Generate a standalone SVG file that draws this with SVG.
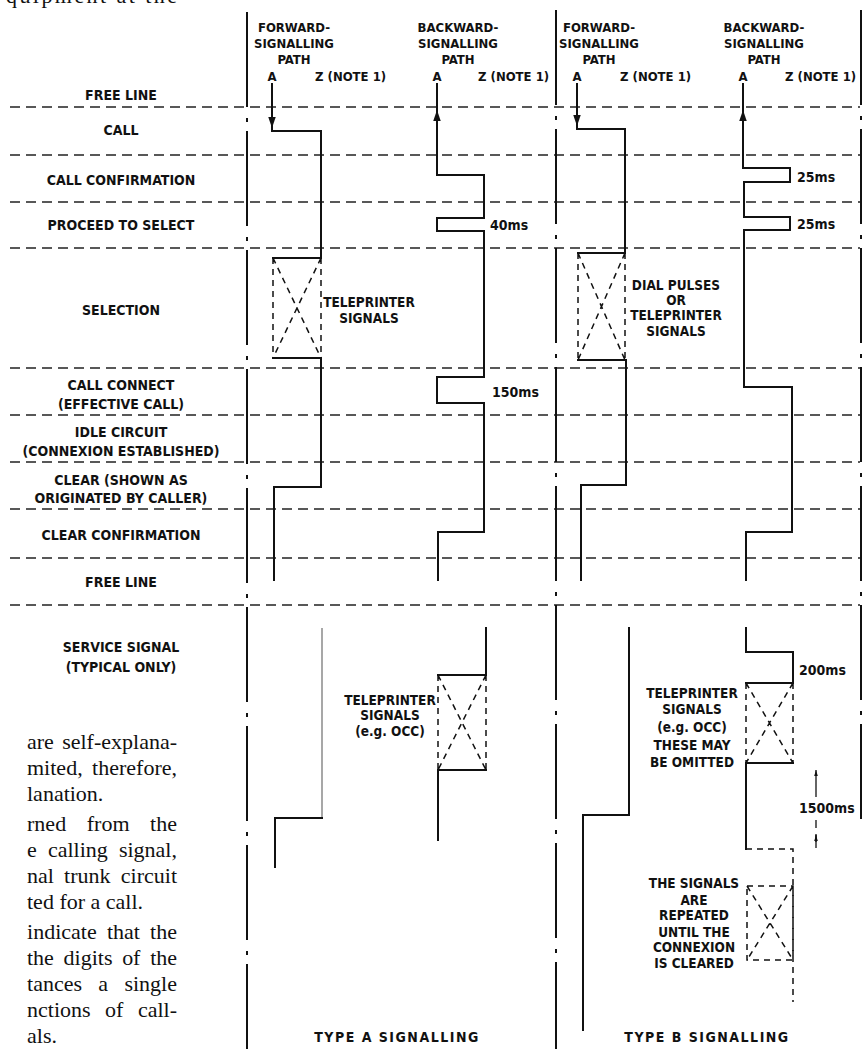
<svg xmlns="http://www.w3.org/2000/svg" width="863" height="1049" viewBox="0 0 863 1049">
<defs>
<style>
.lbl{font-family:"DejaVu Sans Condensed","DejaVu Sans",sans-serif;font-weight:bold;font-size:14px;text-anchor:middle;fill:#111}
.hdr{font-size:13px}
.ann{font-size:13.5px}
.ms{font-size:14px;text-anchor:start}
.zt{font-size:13px;text-anchor:start}
.foot{font-size:14px;letter-spacing:1.5px}
.body{font-family:"Liberation Serif","Times New Roman",serif;font-size:22px;fill:#111}
.sig{fill:none;stroke:#111;stroke-width:2;stroke-linejoin:miter;stroke-linecap:square}
.faint{fill:none;stroke:#8a8a8a;stroke-width:1.5}
.grid{fill:none;stroke:#222;stroke-width:1.3;stroke-dasharray:10 6}
.chain{fill:none;stroke:#111;stroke-width:2;stroke-dasharray:95 11 4 9}
.dsh{fill:none;stroke:#111;stroke-width:1.5;stroke-dasharray:6 5}
.thin{fill:none;stroke:#111;stroke-width:1.3}
</style>
<marker id="arr" viewBox="0 0 10 10" refX="10" refY="5" markerWidth="11" markerHeight="11" markerUnits="userSpaceOnUse" orient="auto">
<path d="M0,1.6 L10,5 L0,8.4 z" fill="#111"/>
</marker>
<marker id="arrs" viewBox="0 0 10 10" refX="10" refY="5" markerWidth="6" markerHeight="6" markerUnits="userSpaceOnUse" orient="auto">
<path d="M0,2 L10,5 L0,8 z" fill="#111"/>
</marker>
</defs>
<rect width="863" height="1049" fill="#fff"/>

<g id="page-text">
<text class="body" x="6" y="3" textLength="171" lengthAdjust="spacing">quipment at the</text>
<text class="body" x="27" y="749" word-spacing="2.8" textLength="150" lengthAdjust="spacing">are self-explana-</text>
<text class="body" x="27" y="775" word-spacing="4" textLength="150" lengthAdjust="spacing">mited, therefore,</text>
<text class="body" x="27" y="801">lanation.</text>
<text class="body" x="27" y="831" word-spacing="15" textLength="150" lengthAdjust="spacing">rned from the</text>
<text class="body" x="27" y="857" word-spacing="5.6" textLength="150" lengthAdjust="spacing">e calling signal,</text>
<text class="body" x="27" y="883" word-spacing="4.7" textLength="150" lengthAdjust="spacing">nal trunk circuit</text>
<text class="body" x="27" y="909">ted for a call.</text>
<text class="body" x="27" y="939" word-spacing="4.7" textLength="150" lengthAdjust="spacing">indicate that the</text>
<text class="body" x="27" y="965" word-spacing="4.2" textLength="150" lengthAdjust="spacing">the digits of the</text>
<text class="body" x="27" y="991" word-spacing="10.8" textLength="150" lengthAdjust="spacing">tances a single</text>
<text class="body" x="27" y="1017" word-spacing="9" textLength="150" lengthAdjust="spacing">nctions of call-</text>
<text class="body" x="27" y="1043">als.</text>
</g>

<g id="grid">
<path class="grid" d="M10,107 H860 M10,155 H860 M10,202 H860 M10,248 H860 M10,368 H860 M10,415 H860 M10,462 H860 M10,509 H860 M10,558 H860 M10,605 H860"/>
<path class="chain" d="M247,12 V1049"/>
<path class="chain" d="M556,10 V1049"/>
<path class="chain" d="M861,10 V822"/>
</g>

<g id="row-labels">
<g id="lbl-free-line-1"><text class="lbl" x="121" y="100">FREE LINE</text></g>
<g id="lbl-call"><text class="lbl" x="121" y="135">CALL</text></g>
<g id="lbl-call-confirmation"><text class="lbl" x="121" y="185">CALL CONFIRMATION</text></g>
<g id="lbl-proceed"><text class="lbl" x="121" y="230">PROCEED TO SELECT</text></g>
<g id="lbl-selection"><text class="lbl" x="121" y="315">SELECTION</text></g>
<g id="lbl-call-connect"><text class="lbl" x="121" y="390">CALL CONNECT</text><text class="lbl" x="121" y="409">(EFFECTIVE CALL)</text></g>
<g id="lbl-idle"><text class="lbl" x="121" y="437">IDLE CIRCUIT</text><text class="lbl" x="121" y="456">(CONNEXION ESTABLISHED)</text></g>
<g id="lbl-clear"><text class="lbl" x="121" y="485">CLEAR (SHOWN AS</text><text class="lbl" x="121" y="503">ORIGINATED BY CALLER)</text></g>
<g id="lbl-clear-confirmation"><text class="lbl" x="121" y="540">CLEAR CONFIRMATION</text></g>
<g id="lbl-free-line-2"><text class="lbl" x="121" y="587">FREE LINE</text></g>
<g id="lbl-service"><text class="lbl" x="121" y="652">SERVICE SIGNAL</text><text class="lbl" x="121" y="672">(TYPICAL ONLY)</text></g>
</g>

<g id="headers">
<g id="hdr-a-fwd">
<text class="lbl hdr" x="294" y="32">FORWARD-</text><text class="lbl hdr" x="294" y="48">SIGNALLING</text><text class="lbl hdr" x="294" y="64">PATH</text>
<text class="lbl hdr" x="272" y="81">A</text><text class="lbl zt" x="315" y="81">Z (NOTE 1)</text>
</g>
<g id="hdr-a-back">
<text class="lbl hdr" x="458" y="32">BACKWARD-</text><text class="lbl hdr" x="458" y="48">SIGNALLING</text><text class="lbl hdr" x="458" y="64">PATH</text>
<text class="lbl hdr" x="437" y="81">A</text><text class="lbl zt" x="478" y="81">Z (NOTE 1)</text>
</g>
<g id="hdr-b-fwd">
<text class="lbl hdr" x="599" y="32">FORWARD-</text><text class="lbl hdr" x="599" y="48">SIGNALLING</text><text class="lbl hdr" x="599" y="64">PATH</text>
<text class="lbl hdr" x="577" y="81">A</text><text class="lbl zt" x="620" y="81">Z (NOTE 1)</text>
</g>
<g id="hdr-b-back">
<text class="lbl hdr" x="764" y="32">BACKWARD-</text><text class="lbl hdr" x="764" y="48">SIGNALLING</text><text class="lbl hdr" x="764" y="64">PATH</text>
<text class="lbl hdr" x="743" y="81">A</text><text class="lbl zt" x="785" y="81">Z (NOTE 1)</text>
</g>
</g>

<g id="connectors">
<!-- Type A forward -->
<path class="sig" d="M272,84 V131 H321 V258 H273"/>
<path class="sig" d="M272,100 V128" marker-end="url(#arr)"/>
<path class="sig" d="M273,358 H321 V487 H274 V580"/>
<path class="dsh" d="M273,258 V358 M321,258 V358 M273,258 L321,358 M321,258 L273,358"/>
<!-- Type A backward -->
<path class="sig" d="M437,84 V175 H484 V218 H437 V231 H484 V377 H437 V403 H484 V532 H438 V580"/>
<path class="sig" d="M437,132 V110" marker-end="url(#arr)"/>
<!-- Type B forward -->
<path class="sig" d="M577,84 V129 H625 V253 H578"/>
<path class="sig" d="M577,100 V126" marker-end="url(#arr)"/>
<path class="sig" d="M578,360 H626 V485 H581 V580"/>
<path class="dsh" d="M578,253 V360 M625,253 V360 M578,253 L625,360 M625,253 L578,360"/>
<!-- Type B backward -->
<path class="sig" d="M743,84 V168 H790 V182 H744 V217 H790 V230 H744 V387 H792 V532 H746 V580"/>
<path class="sig" d="M743,132 V110" marker-end="url(#arr)"/>
<!-- Service signal, type A -->
<path class="faint" d="M322,628 V818"/>
<path class="sig" d="M322,818 H275 V867"/>
<path class="sig" d="M486,628 V675 H438"/>
<path class="dsh" d="M438,675 V770 M486,675 V770 M438,675 L486,770 M486,675 L438,770"/>
<path class="sig" d="M486,770 H438 V840"/>
<!-- Service signal, type B -->
<path class="sig" d="M629,628 V815 H583 V1030"/>
<path class="sig" d="M746,628 V652 H793 V683 H746"/>
<path class="dsh" d="M746,683 V763 M793,683 V763 M746,683 L793,763 M793,683 L746,763"/>
<path class="sig" d="M793,763 H746 V849"/>
<path class="dsh" d="M746,849 H793 V1002"/>
<path class="dsh" d="M747,886 H793 V960 H747 Z M747,886 L793,960 M793,886 L747,960"/>
<!-- 1500 ms dimension -->
<path class="thin" d="M816,797 V770" marker-end="url(#arrs)"/>
<path class="thin" d="M816,820 V828 M816,834 V848"/>
<path class="thin" d="M816,842 V835" marker-end="url(#arrs)"/>
</g>

<g id="annotations">
<g id="ann-a-selection"><text class="lbl ann" x="369" y="307">TELEPRINTER</text><text class="lbl ann" x="369" y="323">SIGNALS</text></g>
<g id="ann-b-selection"><text class="lbl ann" x="676" y="290">DIAL PULSES</text><text class="lbl ann" x="676" y="305">OR</text><text class="lbl ann" x="676" y="320">TELEPRINTER</text><text class="lbl ann" x="676" y="336">SIGNALS</text></g>
<g id="ann-a-service"><text class="lbl ann" x="390" y="705">TELEPRINTER</text><text class="lbl ann" x="390" y="720">SIGNALS</text><text class="lbl ann" x="390" y="736">(e.g. OCC)</text></g>
<g id="ann-b-service"><text class="lbl ann" x="692" y="698">TELEPRINTER</text><text class="lbl ann" x="692" y="714">SIGNALS</text><text class="lbl ann" x="692" y="732">(e.g. OCC)</text><text class="lbl ann" x="692" y="750">THESE MAY</text><text class="lbl ann" x="692" y="767">BE OMITTED</text></g>
<g id="ann-b-repeat"><text class="lbl ann" x="694" y="888">THE SIGNALS</text><text class="lbl ann" x="694" y="905">ARE</text><text class="lbl ann" x="694" y="920">REPEATED</text><text class="lbl ann" x="694" y="937">UNTIL THE</text><text class="lbl ann" x="694" y="952">CONNEXION</text><text class="lbl ann" x="694" y="968">IS CLEARED</text></g>
<g id="ann-timings">
<text class="lbl ms" x="490" y="230">40ms</text>
<text class="lbl ms" x="492" y="397">150ms</text>
<text class="lbl ms" x="797" y="182">25ms</text>
<text class="lbl ms" x="797" y="229">25ms</text>
<text class="lbl ms" x="799" y="675">200ms</text>
<text class="lbl ms" x="799" y="813">1500ms</text>
</g>
</g>

<g id="footers">
<g id="foot-a"><text class="lbl foot" x="397" y="1042">TYPE A SIGNALLING</text></g>
<g id="foot-b"><text class="lbl foot" x="707" y="1042">TYPE B SIGNALLING</text></g>
</g>
</svg>
